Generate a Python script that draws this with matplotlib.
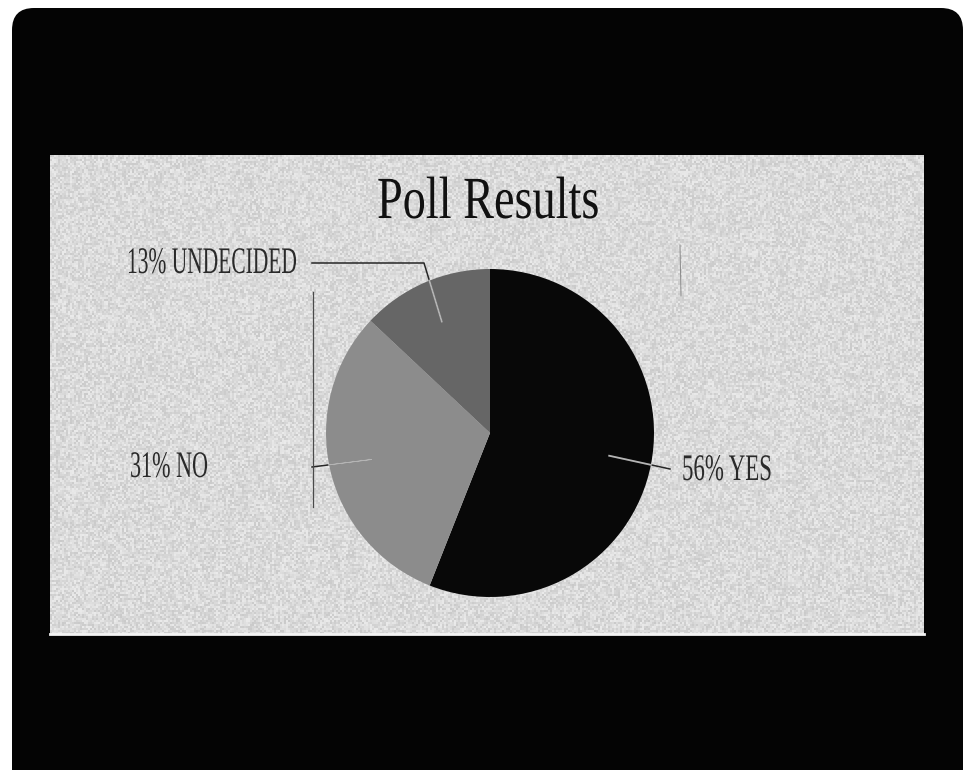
import numpy as np
import matplotlib
matplotlib.use("Agg")
import matplotlib.pyplot as plt
from matplotlib.patches import FancyBboxPatch, Rectangle
from matplotlib.patheffects import AbstractPathEffect
from matplotlib.transforms import Affine2D

# ---- data -------------------------------------------------------------
labels = ["YES", "NO", "UNDECIDED"]
shares = [56, 31, 13]
slice_colors = ["#080808", "#8c8c8c", "#666666"]
title = "Poll Results"

# ---- canvas in pixel units ---------------------------------------------
W, H = 966, 770


def py(y):
    """Convert a top-down pixel row into the axes' bottom-up y value."""
    return H - y


class Squeeze(AbstractPathEffect):
    """Draw text glyphs narrowed horizontally about the text's left baseline."""

    def __init__(self, sx):
        super().__init__()
        self.sx = sx

    def draw_path(self, renderer, gc, tpath, affine, rgbFace=None):
        ox, oy = affine.transform((0, 0))
        narrow = Affine2D().translate(-ox, -oy).scale(self.sx, 1.0).translate(ox, oy)
        renderer.draw_path(gc, tpath, affine + narrow, rgbFace)


fig = plt.figure(figsize=(W / 100, H / 100), dpi=100, facecolor="white")
ax = fig.add_axes([0, 0, 1, 1])
ax.set_axis_off()

# monitor bezel and screen panel
ax.add_patch(FancyBboxPatch((12, py(800)), 951, 792,
                            boxstyle="round,pad=0,rounding_size=22",
                            fc="#040404", ec="none", zorder=0))
panel = dict(x0=50, x1=924, y0=155, y1=634)
ax.add_patch(Rectangle((panel["x0"], py(panel["y1"])),
                       panel["x1"] - panel["x0"], panel["y1"] - panel["y0"],
                       fc="#e8e8e8", ec="none", zorder=1))
ax.plot([panel["x0"], panel["x1"]], [py(panel["y1"]), py(panel["y1"])],
        color="#f4f4f4", lw=2, zorder=1.5)

# screen grain (under the chart)
rng = np.random.default_rng(3)
gh, gw = (panel["y1"] - panel["y0"]) // 2, (panel["x1"] - panel["x0"]) // 2
g = rng.random((gh, gw))
grain = np.zeros((gh, gw, 4))
grain[..., 0] = grain[..., 1] = grain[..., 2] = g
grain[..., 3] = 0.13
ax.imshow(grain, extent=(panel["x0"], panel["x1"], py(panel["y1"]), py(panel["y0"])),
          interpolation="nearest", aspect="auto", zorder=1.2)

# pie
center = (490, py(433))
radius = 164
wedges, _ = ax.pie(shares, colors=slice_colors, startangle=90,
                   counterclock=False, center=center, radius=radius,
                   wedgeprops=dict(linewidth=0, zorder=2))

# leader lines: from inside each slice out to the label
elbows = {
    "YES": [(670, 469)],
    "NO": [(312, 467)],
    "UNDECIDED": [(424, 263), (312, 263)],
}
for w, lab in zip(wedges, labels):
    mid = np.deg2rad((w.theta1 + w.theta2) / 2)
    ax0 = center[0] + 0.74 * radius * np.cos(mid)
    ay0 = center[1] + 0.74 * radius * np.sin(mid)
    pts = [(ax0, ay0)] + [(x, py(y)) for x, y in elbows[lab]]
    xs, ys = zip(*pts)
    ax.plot(xs, ys, color="#262626", lw=1.1, zorder=3)
    # lighter part of the first segment where it crosses the slice
    dx, dy = xs[1] - xs[0], ys[1] - ys[0]
    fx, fy = xs[0] - center[0], ys[0] - center[1]
    a = dx * dx + dy * dy
    b = 2 * (fx * dx + fy * dy)
    c = fx * fx + fy * fy - radius ** 2
    t = (-b + np.sqrt(b * b - 4 * a * c)) / (2 * a)
    t = min(max(t, 0.0), 1.0)
    ax.plot([xs[0], xs[0] + t * dx], [ys[0], ys[0] + t * dy],
            color="#b4b4b4", lw=1.3, zorder=3.5)

# stray guide lines on the screen
ax.plot([313, 313], [py(292), py(507)], color="#4a4a4a", lw=0.9, zorder=3)
ax.plot([680, 681], [py(245), py(296)], color="#8a8a8a", lw=0.7, zorder=3)

ax.set_xlim(0, W)
ax.set_ylim(0, H)
ax.set_aspect("auto")

# texts: (string, left, baseline, size, target width, colour)
texts = [
    (title, 377, 218, 43, 223, "#111111"),
    ("13% UNDECIDED", 127, 273, 27, 170, "#2a2a2a"),
    ("31% NO", 130, 477, 27, 78, "#2a2a2a"),
    ("56% YES", 682, 480, 27, 90, "#2a2a2a"),
]
renderer = fig.canvas.get_renderer()
for s, x, y, size, target, col in texts:
    t = ax.text(x, py(y), s, ha="left", va="baseline", fontsize=size,
                family="Liberation Serif", color=col, zorder=6)
    width = t.get_window_extent(renderer).width
    t.set_path_effects([Squeeze(target / width)])

fig.savefig("out.png", dpi=100, facecolor="white")
